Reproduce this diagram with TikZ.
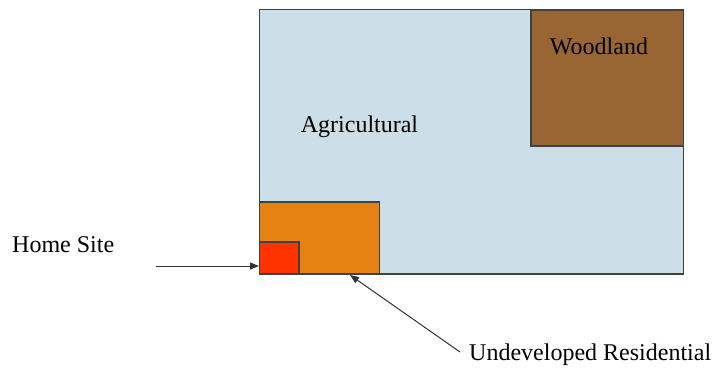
\documentclass[tikz,border=0pt]{standalone}
\usepackage{fontspec}
\setmainfont{Liberation Serif}
\usetikzlibrary{arrows.meta}
\definecolor{agri}{RGB}{204,222,232}
\definecolor{wood}{RGB}{153,102,51}
\definecolor{resid}{RGB}{230,130,18}
\definecolor{home}{RGB}{255,51,0}
\begin{document}
\begin{tikzpicture}[x=1pt,y=-1pt,
  region/.style={draw=black!75,line width=1.2pt},
  lbl/.style={font=\fontsize{24}{28}\selectfont,inner sep=0pt},
  ptr/.style={draw=black!80,line width=1pt,-{Triangle[length=9pt,width=7pt]}}]
\useasboundingbox (0,0) rectangle (717,370);
\path[region,fill=agri] (259.5,9.5) rectangle (683.5,274);
\path[region,fill=wood] (531,10) rectangle (683.5,146);
\path[region,fill=resid] (259.5,202) rectangle (379.5,274);
\path[region,fill=home] (259.5,242) rectangle (299,274);
\coordinate (homeW) at (259,266);
\coordinate (residS) at (350,275);
\coordinate (homeTail) at (156,266);
\coordinate (undevTail) at (460,352);
\node[lbl] (agrilbl) at (359.5,127) {Agricultural};
\node[lbl] (woodlbl) at (599,46) {Woodland};
\node[lbl,anchor=west] (homelbl) at (12,245) {Home Site};
\node[lbl,anchor=west] (undevlbl) at (469,355) {Undeveloped Residential};
\draw[ptr] (homeTail) -- (homeW);
\draw[ptr] (undevTail) -- (residS);
\end{tikzpicture}
\end{document}
